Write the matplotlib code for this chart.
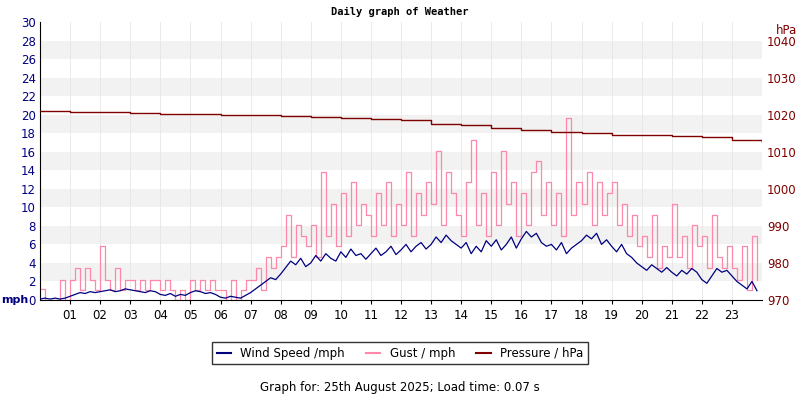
import matplotlib
matplotlib.use("Agg")
import matplotlib.pyplot as plt
import numpy as np
from matplotlib.lines import Line2D

wind = [0.1,0.2,0.1,0.2,0.1,0.2, 0.4,0.6,0.8,0.7,0.9,0.8, 0.9,1.0,1.1,0.9,1.0,1.2,
        1.1,1.0,0.9,0.8,1.0,0.9, 0.6,0.5,0.7,0.4,0.6,0.5, 0.8,1.0,0.9,0.7,0.8,0.6,
        0.3,0.2,0.4,0.3,0.2,0.5, 0.8,1.2,1.6,2.0,2.4,2.2, 2.8,3.5,4.2,3.8,4.5,3.6,
        4.0,4.8,4.2,5.0,4.5,4.2, 5.2,4.6,5.5,4.8,5.0,4.4, 5.0,5.6,4.8,5.2,5.8,4.9,
        5.4,6.0,5.2,5.8,6.2,5.5, 6.0,6.8,6.2,7.0,6.4,6.0, 5.6,6.2,5.0,5.8,5.2,6.4,
        5.8,6.5,5.4,6.0,6.8,5.6, 6.6,7.4,6.8,7.2,6.2,5.8, 6.0,5.4,6.2,5.0,5.6,6.0,
        6.4,7.0,6.6,7.2,6.0,6.5, 5.8,5.2,6.0,5.0,4.6,4.0, 3.6,3.2,3.8,3.4,3.0,3.5,
        3.0,2.6,3.2,2.8,3.4,3.0, 2.2,1.8,2.6,3.4,3.0,3.2, 2.6,2.0,1.6,1.2,2.0,1.0]
gust = [1.2,0.0,0.0,0.0,2.2,0.0, 2.2,3.5,1.1,3.5,2.2,1.1, 5.8,2.2,1.1,3.5,1.1,2.2,
        2.2,1.1,2.2,1.1,2.2,2.2, 1.1,2.2,1.1,0.0,1.1,0.0, 2.2,1.1,2.2,1.1,2.2,1.1,
        1.1,0.0,2.2,0.0,1.1,2.2, 2.2,3.5,1.1,4.6,3.5,4.6, 5.8,9.2,4.6,8.1,6.9,5.8,
        8.1,4.6,13.8,6.9,10.4,5.8, 11.5,6.9,12.7,8.1,10.4,9.2, 6.9,11.5,8.1,12.7,6.9,10.4,
        8.1,13.8,6.9,11.5,9.2,12.7, 10.4,16.1,8.1,13.8,11.5,9.2, 6.9,12.7,17.3,8.1,11.5,6.9,
        13.8,8.1,16.1,10.4,12.7,6.9, 11.5,8.1,13.8,15.0,9.2,12.7, 8.1,11.5,6.9,19.6,9.2,12.7,
        10.4,13.8,8.1,12.7,9.2,11.5, 12.7,8.1,10.4,6.9,9.2,5.8, 6.9,4.6,9.2,3.5,5.8,4.6,
        10.4,4.6,6.9,3.5,8.1,5.8, 6.9,3.5,9.2,4.6,3.5,5.8, 3.5,2.2,5.8,1.1,6.9,2.2]
pressure = [1021.0,1020.9,1020.8,1020.6,1020.3,1020.2,1020.1,1020.0,1019.6,1019.4,1019.2,
            1019.0,1018.5,1017.6,1017.2,1016.5,1016.0,1015.5,1015.0,1014.6,1014.5,1014.4,
            1014.1,1013.3,1012.6]
hour_labels = ["%02d" % h for h in range(1, 24)]

fig = plt.figure(figsize=(8, 4), dpi=100)
ax = fig.add_axes([0.05, 0.25, 0.9025, 0.695])
tw = np.arange(len(wind)) / 6.0
tp = np.arange(len(pressure))

for y0 in range(2, 30, 4):
    ax.axhspan(y0, y0 + 2, color="#f2f2f2", zorder=0, lw=0)
for h in range(1, 24):
    ax.axvline(h, color="#e6e6e6", lw=0.6, zorder=0.5)
ax.plot(tw, gust, color="#ff88aa", lw=0.9, drawstyle="steps-post", zorder=2)
ax.plot(tw, wind, color="#000080", lw=0.9, zorder=3)
ax.set_xlim(0, 24)
ax.set_ylim(0, 30)
ax.set_yticks(range(0, 31, 2))
ax.set_xticks(range(1, 24))
ax.set_xticklabels(hour_labels)
ax.tick_params(axis="y", colors="#000080", labelsize=8.5, length=0, pad=3)
ax.tick_params(axis="x", labelsize=8.5, length=3)
for s in ["top", "right"]:
    ax.spines[s].set_visible(False)
fig.text(0.002, 0.25, "mph", ha="left", va="center",
         color="#000080", fontsize=8, fontweight="bold")

ax2 = ax.twinx()
ax2.plot(tp, pressure, color="#800000", lw=1.0, drawstyle="steps-post")
ax2.set_ylim(970, 1045.1)
ax2.set_yticks(range(970, 1041, 10))
ax2.tick_params(axis="y", colors="#800000", labelsize=8.5, length=0)
for s in ["top", "left", "bottom", "right"]:
    ax2.spines[s].set_visible(False)
fig.text(0.97, 0.925, "hPa", ha="left", va="center", color="#800000", fontsize=8.5)

fig.text(0.5, 0.97, "Daily graph of Weather", ha="center", va="center",
         family="DejaVu Sans Mono", fontweight="bold", fontsize=7.5)
handles = [Line2D([], [], color="#000080", lw=1.5), Line2D([], [], color="#ff88aa", lw=1.5),
           Line2D([], [], color="#800000", lw=1.5)]
fig.legend(handles, ["Wind Speed /mph", "Gust / mph", "Pressure / hPa"], loc="center",
           bbox_to_anchor=(0.5, 0.117), ncol=3, fontsize=8.5, frameon=True, fancybox=False,
           edgecolor="black", handlelength=1.2, columnspacing=1.8, borderpad=0.4)
fig.text(0.5, 0.03, "Graph for: 25th August 2025; Load time: 0.07 s", ha="center",
         va="center", fontsize=8.5)
fig.savefig("out.png", dpi=100)
